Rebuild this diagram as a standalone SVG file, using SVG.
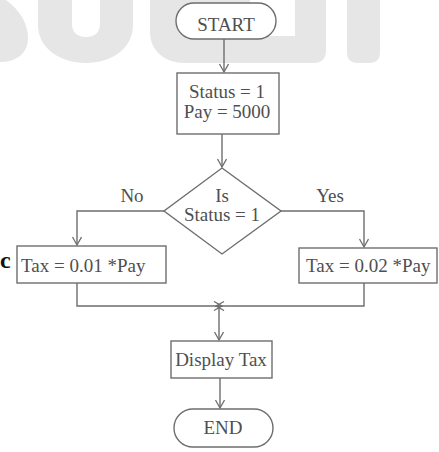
<svg xmlns="http://www.w3.org/2000/svg" width="439" height="452" viewBox="0 0 439 452">
  <defs>
    <style>
      .shape { fill: #ffffff; stroke: #6e6e6e; stroke-width: 1.4; }
      .box { fill: none; stroke: #6e6e6e; stroke-width: 1.4; }
      .line { fill: none; stroke: #6e6e6e; stroke-width: 1.4; }
      .lbl { font-family: "Liberation Serif", "Times New Roman", serif; font-size: 19px; fill: #4f4f4f; }
      .mid { text-anchor: middle; }
      .wm { fill: #e6e6e6; }
    </style>
    <marker id="arr" markerUnits="userSpaceOnUse" markerWidth="12" markerHeight="12" refX="9" refY="5" orient="auto">
      <path d="M1,0.5 L9,5 L1,9.5" fill="none" stroke="#6e6e6e" stroke-width="1.3"/>
    </marker>
  </defs>

  <g id="watermark">
    <path class="wm" d="M0,0 H6 C20,10 28,24 28,38 C28,52 18,62 0,62 Z"/>
    <path class="wm" fill-rule="evenodd" d="M38,0 H133 V25 C133,48 112,63 86,63 C60,63 38,48 38,25 Z M72,0 H100 V24 C100,33 94,37 86,37 C78,37 72,33 72,24 Z"/>
    <path class="wm" d="M150,0 H230 V63 H185 C164,63 150,50 150,32 Z"/>
    <path class="wm" fill-rule="evenodd" d="M230,0 H326 V50 Q326,63 313,63 H230 Z M250,0 H295 V36 H250 Z"/>
    <path class="wm" d="M347,0 H380 V52 Q380,63 369,63 H358 Q347,63 347,52 Z"/>
  </g>

  <text class="lbl" x="0" y="268" style="font-size:24px;font-weight:bold;fill:#111">c</text>

  <g id="connectors">
    <line class="line" x1="224" y1="39" x2="224" y2="72" marker-end="url(#arr)"/>
    <line class="line" x1="222" y1="134" x2="222" y2="167" marker-end="url(#arr)"/>
    <polyline class="line" points="164,211 77,211 77,245" marker-end="url(#arr)"/>
    <polyline class="line" points="281,211 364,211 364,247" marker-end="url(#arr)"/>
    <polyline class="line" points="77,283 77,306 222,306" marker-end="url(#arr)"/>
    <polyline class="line" points="364,283 364,306 216,306" marker-end="url(#arr)"/>
    <line class="line" x1="219" y1="306" x2="219" y2="340" marker-end="url(#arr)"/>
    <line class="line" x1="220" y1="378" x2="220" y2="408" marker-end="url(#arr)"/>
    <text class="lbl mid" x="132" y="202">No</text>
    <text class="lbl mid" x="330" y="202">Yes</text>
  </g>

  <g id="start">
    <rect class="shape" x="176" y="3" width="100" height="36" rx="18"/>
    <text class="lbl mid" x="226" y="31">START</text>
  </g>

  <g id="init">
    <rect class="box" x="177" y="73" width="102" height="61"/>
    <text class="lbl mid" x="227" y="98">Status = 1</text>
    <text class="lbl mid" x="227" y="118">Pay = 5000</text>
  </g>

  <g id="decision">
    <polygon class="shape" points="222,168 281,211 222,254 164,211"/>
    <text class="lbl mid" x="222" y="202">Is</text>
    <text class="lbl mid" x="222" y="221">Status = 1</text>
  </g>

  <g id="tax-low">
    <rect class="box" x="17" y="246" width="149" height="37"/>
    <text class="lbl" x="21" y="272">Tax = 0.01 *Pay</text>
  </g>

  <g id="tax-high">
    <rect class="box" x="299" y="248" width="138" height="35"/>
    <text class="lbl" x="306" y="272">Tax = 0.02 *Pay</text>
  </g>

  <g id="display">
    <rect class="box" x="171" y="341" width="101" height="37"/>
    <text class="lbl mid" x="221" y="366">Display Tax</text>
  </g>

  <g id="end">
    <rect class="shape" x="174" y="409" width="99" height="38" rx="19"/>
    <text class="lbl mid" x="223" y="434">END</text>
  </g>
</svg>
